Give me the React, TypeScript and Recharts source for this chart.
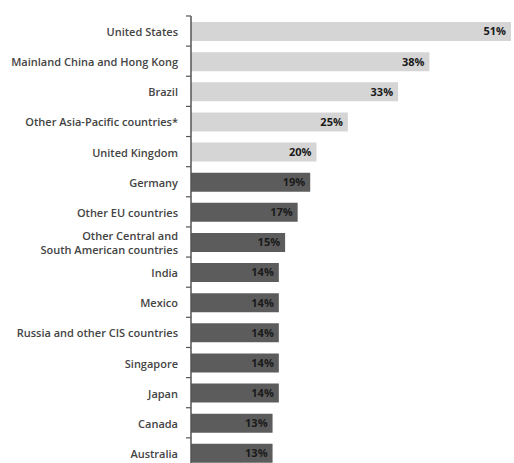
import { BarChart, Bar, XAxis, YAxis, Cell, LabelList } from "recharts";

const countries = [
  "United States",
  "Mainland China and Hong Kong",
  "Brazil",
  "Other Asia-Pacific countries*",
  "United Kingdom",
  "Germany",
  "Other EU countries",
  "Other Central and\nSouth American countries",
  "India",
  "Mexico",
  "Russia and other CIS countries",
  "Singapore",
  "Japan",
  "Canada",
  "Australia",
];
const shares = [51, 38, 33, 25, 20, 19, 17, 15, 14, 14, 14, 14, 14, 13, 13];
// first five are the light group, the rest dark
const tiers = ["top", "top", "top", "top", "top", "rest", "rest", "rest", "rest", "rest", "rest", "rest", "rest", "rest", "rest"];

const W = 514;
const H = 470;
const MARGIN = { top: 16, right: 3, bottom: 2, left: 0 };
const AXIS_W = 191;
const BAND = (H - MARGIN.top - MARGIN.bottom) / countries.length;
const FONT = "'Open Sans', 'DejaVu Sans', sans-serif";

const data = countries.map((name, i) => ({ name, share: shares[i], tier: tiers[i] }));

function CountryTick(props: any) {
  const { x, y, payload } = props;
  const lines = String(payload.value).split("\n");
  const axisX = AXIS_W;
  const lineH = 13.5;
  const y0 = y - ((lines.length - 1) * lineH) / 2;
  return (
    <g>
      <line x1={axisX - 5} x2={axisX} y1={y - BAND / 2} y2={y - BAND / 2} stroke="#555" strokeWidth={1.2} />
      <text x={x} y={y0} textAnchor="end" dominantBaseline="central" fill="#444" fontSize={11} fontWeight={600} fontFamily={FONT}>
        {lines.map((l, i) => (
          <tspan key={i} x={x} y={y0 + i * lineH}>
            {l}
          </tspan>
        ))}
      </text>
    </g>
  );
}

export default function App() {
  return (
    <div style={{ position: "fixed", left: 0, top: 0, width: W, height: 463, overflow: "hidden", background: "#fff" }}>
      <BarChart width={W} height={H} data={data} layout="vertical" margin={MARGIN}>
        <XAxis type="number" domain={[0, 51]} hide />
        <YAxis
          type="category"
          dataKey="name"
          width={AXIS_W}
          axisLine={{ stroke: "#555", strokeWidth: 1.5 }}
          tickLine={false}
          tickSize={4}
          tickMargin={9}
          interval={0}
          tick={<CountryTick />}
        />
        <Bar dataKey="share" barSize={19} isAnimationActive={false}>
          {data.map((d, i) => (
            <Cell key={i} fill={d.tier === "top" ? "#d5d5d5" : "#5c5c5c"} />
          ))}
          <LabelList
            dataKey="share"
            position="insideRight"
            offset={5}
            formatter={(v: any) => `${v}%`}
            style={{ fill: "#1a1a1a", fontSize: 11, fontWeight: 700, fontFamily: FONT }}
          />
        </Bar>
      </BarChart>
    </div>
  );
}
